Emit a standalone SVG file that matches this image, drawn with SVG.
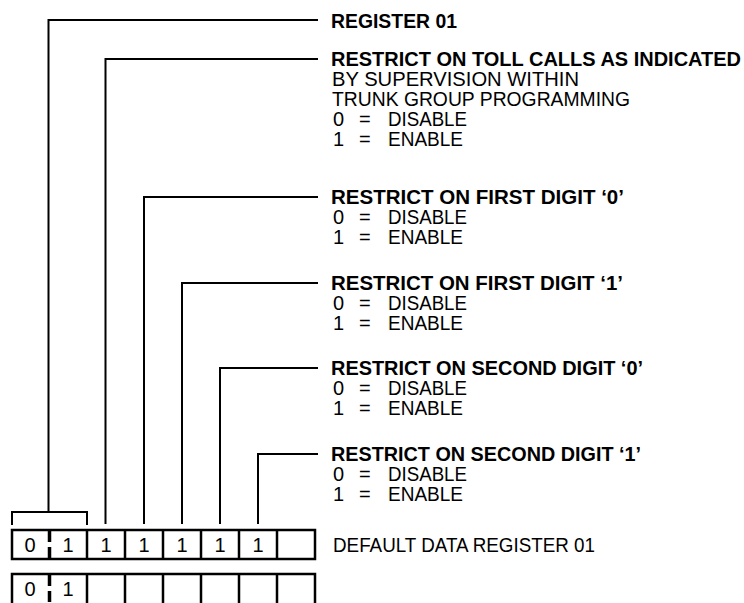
<svg xmlns="http://www.w3.org/2000/svg" width="744" height="603" viewBox="0 0 744 603">
<style>
.c{fill:none;stroke:#000;stroke-width:2}
.b{fill:none;stroke:#000;stroke-width:2.5}
.d{stroke:#000;stroke-width:3.5;stroke-dasharray:11 5}
text{font-family:"Liberation Sans Narrow","Liberation Sans",Arial,sans-serif;font-size:20px;fill:#000}
.h{font-weight:bold}
.n{text-anchor:middle}
</style>
<rect width="744" height="603" fill="#fff"/>
<g id="connectors">
<path class="c" d="M318,20H48.5V512"/>
<path class="c" d="M12,525V512H87V525"/>
<path class="c" d="M318,59H105.5V524"/>
<path class="c" d="M318,197H144V524"/>
<path class="c" d="M318,283H182V524"/>
<path class="c" d="M318,368H220V524"/>
<path class="c" d="M318,454H258V524"/>
</g>
<g id="register-01">
<text class="h" x="331" y="28" textLength="126" lengthAdjust="spacingAndGlyphs">REGISTER 01</text>
</g>
<g id="toll-calls">
<text class="h" x="331" y="66" textLength="410" lengthAdjust="spacingAndGlyphs">RESTRICT ON TOLL CALLS AS INDICATED</text>
<text x="332" y="86" textLength="247" lengthAdjust="spacingAndGlyphs">BY SUPERVISION WITHIN</text>
<text x="332" y="106" textLength="298" lengthAdjust="spacingAndGlyphs">TRUNK GROUP PROGRAMMING</text>
<text y="126"><tspan x="333">0 </tspan><tspan x="359">= </tspan><tspan x="388" textLength="79" lengthAdjust="spacingAndGlyphs">DISABLE</tspan></text>
<text y="146"><tspan x="333">1 </tspan><tspan x="359">= </tspan><tspan x="388" textLength="75" lengthAdjust="spacingAndGlyphs">ENABLE</tspan></text>
</g>
<g id="first-digit-0">
<text class="h" x="331" y="204" textLength="293" lengthAdjust="spacingAndGlyphs">RESTRICT ON FIRST DIGIT ‘0’</text>
<text y="224"><tspan x="333">0 </tspan><tspan x="359">= </tspan><tspan x="388" textLength="79" lengthAdjust="spacingAndGlyphs">DISABLE</tspan></text>
<text y="244"><tspan x="333">1 </tspan><tspan x="359">= </tspan><tspan x="388" textLength="75" lengthAdjust="spacingAndGlyphs">ENABLE</tspan></text>
</g>
<g id="first-digit-1">
<text class="h" x="331" y="290" textLength="292" lengthAdjust="spacingAndGlyphs">RESTRICT ON FIRST DIGIT ‘1’</text>
<text y="310"><tspan x="333">0 </tspan><tspan x="359">= </tspan><tspan x="388" textLength="79" lengthAdjust="spacingAndGlyphs">DISABLE</tspan></text>
<text y="330"><tspan x="333">1 </tspan><tspan x="359">= </tspan><tspan x="388" textLength="75" lengthAdjust="spacingAndGlyphs">ENABLE</tspan></text>
</g>
<g id="second-digit-0">
<text class="h" x="331" y="375" textLength="312" lengthAdjust="spacingAndGlyphs">RESTRICT ON SECOND DIGIT ‘0’</text>
<text y="395"><tspan x="333">0 </tspan><tspan x="359">= </tspan><tspan x="388" textLength="79" lengthAdjust="spacingAndGlyphs">DISABLE</tspan></text>
<text y="415"><tspan x="333">1 </tspan><tspan x="359">= </tspan><tspan x="388" textLength="75" lengthAdjust="spacingAndGlyphs">ENABLE</tspan></text>
</g>
<g id="second-digit-1">
<text class="h" x="331" y="461" textLength="310" lengthAdjust="spacingAndGlyphs">RESTRICT ON SECOND DIGIT ‘1’</text>
<text y="481"><tspan x="333">0 </tspan><tspan x="359">= </tspan><tspan x="388" textLength="79" lengthAdjust="spacingAndGlyphs">DISABLE</tspan></text>
<text y="501"><tspan x="333">1 </tspan><tspan x="359">= </tspan><tspan x="388" textLength="75" lengthAdjust="spacingAndGlyphs">ENABLE</tspan></text>
</g>
<g id="default-register">
<rect class="b" x="12" y="530" width="303" height="29"/>
<line class="d" x1="49.5" y1="531" x2="49.5" y2="559"/>
<path class="b" d="M87,530V559M125,530V559M163,530V559M201,530V559M239,530V559M277,530V559"/>
<text class="n" x="30" y="552">0</text>
<text class="n" x="68" y="552">1</text>
<text class="n" x="106" y="552">1</text>
<text class="n" x="144" y="552">1</text>
<text class="n" x="182" y="552">1</text>
<text class="n" x="220" y="552">1</text>
<text class="n" x="258" y="552">1</text>
<text x="333" y="552" textLength="262" lengthAdjust="spacingAndGlyphs">DEFAULT DATA REGISTER 01</text>
</g>
<g id="register-row-2">
<path class="b" d="M12,606V574H315V606"/>
<line class="d" x1="49.5" y1="575" x2="49.5" y2="603"/>
<path class="b" d="M87,574V603M125,574V603M163,574V603M201,574V603M239,574V603M277,574V603"/>
<text class="n" x="30" y="596">0</text>
<text class="n" x="68" y="596">1</text>
</g>
</svg>
